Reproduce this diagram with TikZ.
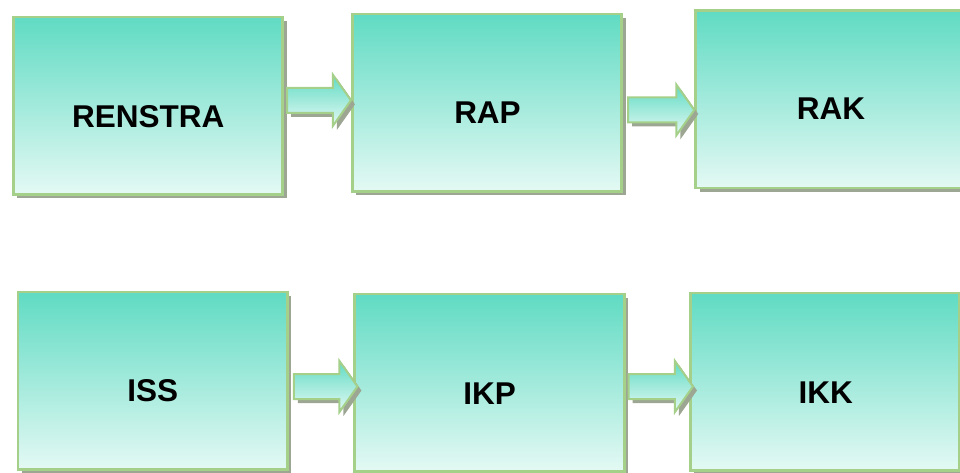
\documentclass[tikz,border=0pt]{standalone}
\usepackage{fontspec}
\setmainfont{Liberation Sans}
\usetikzlibrary{shadows,calc}
\definecolor{tealtop}{RGB}{96,219,195}
\definecolor{tealbot}{RGB}{228,249,244}
\definecolor{rimgreen}{RGB}{164,208,138}
\definecolor{shadegray}{RGB}{156,166,146}
\tikzset{
  stagebox/.style={rectangle, draw=rimgreen, line width=2.6pt,
    top color=tealtop, bottom color=tealbot,
    minimum width=269.5pt, minimum height=177.5pt, inner sep=0pt,
    general shadow={fill=shadegray, shadow xshift=4pt, shadow yshift=-4pt}},
  stagetext/.style={anchor=base, inner sep=0pt,
    font=\fontsize{31.5}{36}\selectfont\bfseries},
  arrowbody/.style={draw=rimgreen, line width=2pt, line join=miter,
    top color=tealtop, bottom color=tealbot},
  arrowshade/.style={fill=shadegray}
}
% block arrow from #1 to tip #2 (shaft half height 12.5, head half height 25.5, head length 18)
\newcommand{\blockarrow}[2]{%
  \path[arrowshade] let \p1=(#1), \p2=(#2) in
    (\x1+4pt,\y1+12.5pt-4pt) -- (\x2-18pt+4pt,\y1+12.5pt-4pt) -- (\x2-18pt+4pt,\y1+25.5pt-4pt)
    -- (\x2+4pt,\y2-4pt) -- (\x2-18pt+4pt,\y1-25.5pt-4pt) -- (\x2-18pt+4pt,\y1-12.5pt-4pt)
    -- (\x1+4pt,\y1-12.5pt-4pt) -- cycle;
  \path[arrowbody] let \p1=(#1), \p2=(#2) in
    (\x1,\y1+12.5pt) -- (\x2-18pt,\y1+12.5pt) -- (\x2-18pt,\y1+25.5pt)
    -- (\x2,\y2) -- (\x2-18pt,\y1-25.5pt) -- (\x2-18pt,\y1-12.5pt)
    -- (\x1,\y1-12.5pt) -- cycle;
}
\begin{document}
\begin{tikzpicture}[x=1pt,y=-1pt]
  \useasboundingbox (0,0) rectangle (960,473);
  \clip (0,0) rectangle (960,473);

  % planning documents
  \node[stagebox] (renstra) at (148,105.7) {};
  \node[stagebox] (rap)     at (487,102.7) {};
  \node[stagebox] (rak)     at (830.3,99.2) {};
  % performance indicators
  \node[stagebox] (iss) at (152.7,380.9) {};
  \node[stagebox] (ikp) at (489.5,382.7) {};
  \node[stagebox] (ikk) at (825,381.9) {};

  \node[stagetext] (trenstra) at (148.3,127.7) {RENSTRA};
  \node[stagetext] (trap)     at (487.5,123.3) {RAP};
  \node[stagetext] (trak)     at (831,119.3)   {RAK};
  \node[stagetext] (tiss)     at (152.8,401.7) {ISS};
  \node[stagetext] (tikp)     at (489.5,404.3) {IKP};
  \node[stagetext] (tikk)     at (825.7,403.3) {IKK};

  % arrow ends beside the boxes
  \coordinate (a1s) at ([xshift=3pt]renstra.east |- 0,100.3);
  \coordinate (a1e) at (rap.west |- 0,100.3);
  \coordinate (a2s) at ([xshift=5pt]rap.east |- 0,110);
  \coordinate (a2e) at (rak.west |- 0,110);
  \coordinate (a3s) at ([xshift=5pt]iss.east |- 0,386.5);
  \coordinate (a3e) at ([xshift=4pt]ikp.west |- 0,386.5);
  \coordinate (a4s) at ([xshift=3pt]ikp.east |- 0,386.5);
  \coordinate (a4e) at ([xshift=4pt]ikk.west |- 0,386.5);

  \blockarrow{a1s}{a1e}
  \blockarrow{a2s}{a2e}
  \blockarrow{a3s}{a3e}
  \blockarrow{a4s}{a4e}
\end{tikzpicture}
\end{document}
